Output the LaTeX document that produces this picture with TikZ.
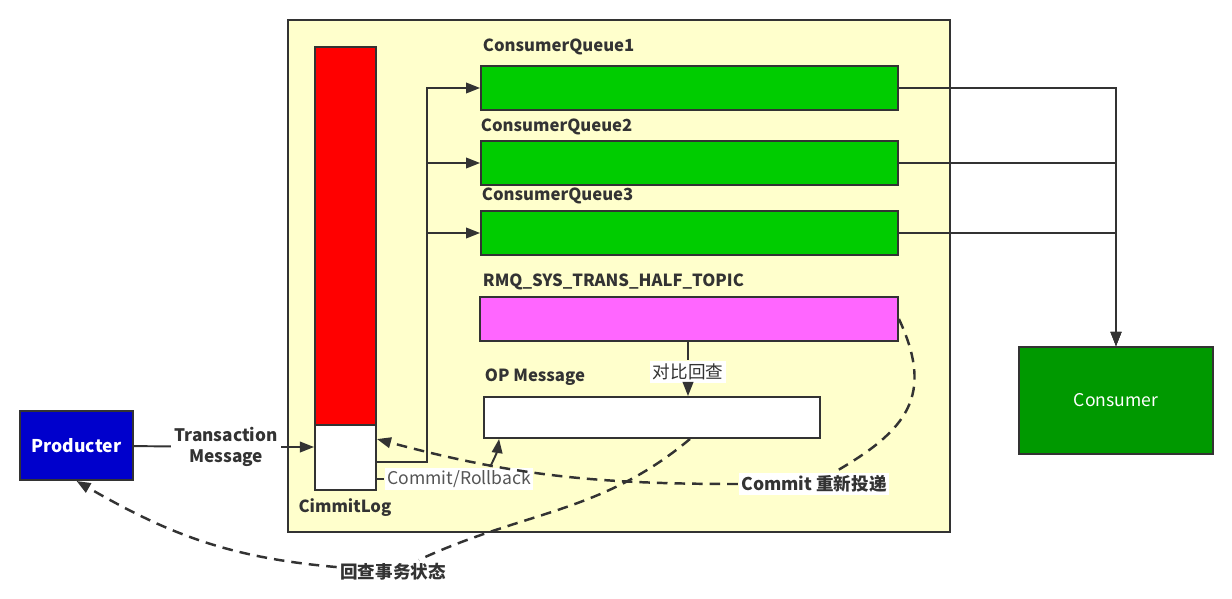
\documentclass[tikz,border=0pt]{standalone}
\usepackage{fontspec}
\setmainfont{Noto Sans CJK SC}
\usetikzlibrary{arrows.meta,calc}

\definecolor{paper}{HTML}{FFFFCC}
\definecolor{linegray}{HTML}{333333}
\definecolor{logred}{HTML}{FF0000}
\definecolor{qgreen}{HTML}{00CC00}
\definecolor{halfpink}{HTML}{FF66FF}
\definecolor{prodblue}{HTML}{0000CC}
\definecolor{consgreen}{HTML}{009900}
\definecolor{crgray}{HTML}{555555}

\begin{document}
\begin{tikzpicture}
  [x=0.02cm, y=-0.02cm, line width=1.1pt, draw=linegray, text=linegray,
   >={Triangle[length=8pt,width=6pt]},
   box/.style={draw=linegray, minimum height=0.88cm, inner sep=0pt},
   queue/.style={box, fill=qgreen, minimum width=8.34cm},
   tag/.style={font=\bfseries\fontsize{9.5}{11.4}\selectfont, anchor=west, inner sep=0pt},
   note/.style={fill=white, inner sep=1.5pt},
   back/.style={line width=1.4pt, dash pattern=on 6pt off 4pt}]
  \useasboundingbox (0,0) rectangle (1232,599);

  \node[box, fill=paper, minimum width=13.24cm, minimum height=10.24cm] (broker) at (619,276) {};
  \node[box, fill=logred, minimum width=1.22cm, minimum height=7.56cm] (log) at (345.5,236) {};
  \node[box, fill=white, minimum width=1.22cm, minimum height=1.3cm] (clw) at (345.5,457.5) {};
  \node[tag, anchor=center] (logname) at (345,508) {CimmitLog};

  \node[box, fill=prodblue, minimum width=2.26cm, minimum height=1.38cm, text=white, font=\bfseries] (prod) at (76.5,445.5) {Producter};
  \node[box, fill=consgreen, minimum width=3.88cm, minimum height=2.14cm, text=white] (cons) at (1116,400.5) {Consumer};

  \node[queue] (cq1) at (689.5,88) {};
  \node[queue] (cq2) at (689.5,163) {};
  \node[queue] (cq3) at (689.5,233) {};
  \node[box, fill=halfpink, minimum width=8.36cm] (half) at (689,319) {};
  \node[box, fill=white, minimum width=6.72cm, minimum height=0.82cm] (op) at (652,417.5) {};

  \node[tag] (cq1name) at (482,47) {ConsumerQueue1};
  \node[tag] (cq2name) at (480,127) {ConsumerQueue2};
  \node[tag] (cq3name) at (481,196) {ConsumerQueue3};
  \node[tag] (halfname) at (482,282) {RMQ\_SYS\_TRANS\_HALF\_TOPIC};
  \node[tag] (opname) at (484,377) {OP Message};

  \node[note, font=\bfseries\fontsize{9.8}{12}\selectfont, align=center] (txn) at (226,447) {Transaction\\Message};
  \node[note, text=crgray] (cr) at (459,479) {Commit/Rollback};
  \node[note] (cmp) at (688,372) {对比回查};
  \node[note, font=\bfseries] (redo) at (814,484) {Commit 重新投递};
  \node[note, font=\bfseries] (check) at (393,572) {回查事务状态};

  \draw (prod) -- (txn);
  \draw[->] (txn) -- (txn -| clw.west);

  \coordinate (bus) at (427,462);
  \draw[->] (clw.east |- bus) -- (bus) |- (cq1.west);
  \foreach \q in {cq2,cq3}
  \draw[->] (bus |- \q.west) -- (\q.west);

  \foreach \q in {cq1,cq2,cq3}
  \draw[->] (\q.east) -| (cons.north);

  \draw (clw.east |- cr) -- (cr);
  \draw[->] ($(cr.north)+(31,0)$) to[bend right=10] ($(op.south west)+(16,0)$);

  \draw (half.south -| cmp) -- (cmp);
  \draw[->] (cmp) -- (cmp |- op.north);

  \draw[back] (half.east) to[out=-65, in=30, looseness=1.3] (redo);
  \draw[back, ->] (redo) to[out=180, in=-15] ($(clw.north east)+(0,15)$);
  \draw[back] ($(op.south)+(38,0)$) to[out=-140, in=25] (check);
  \draw[back, ->] (check) to[out=175, in=-30] (prod.south);
\end{tikzpicture}
\end{document}
